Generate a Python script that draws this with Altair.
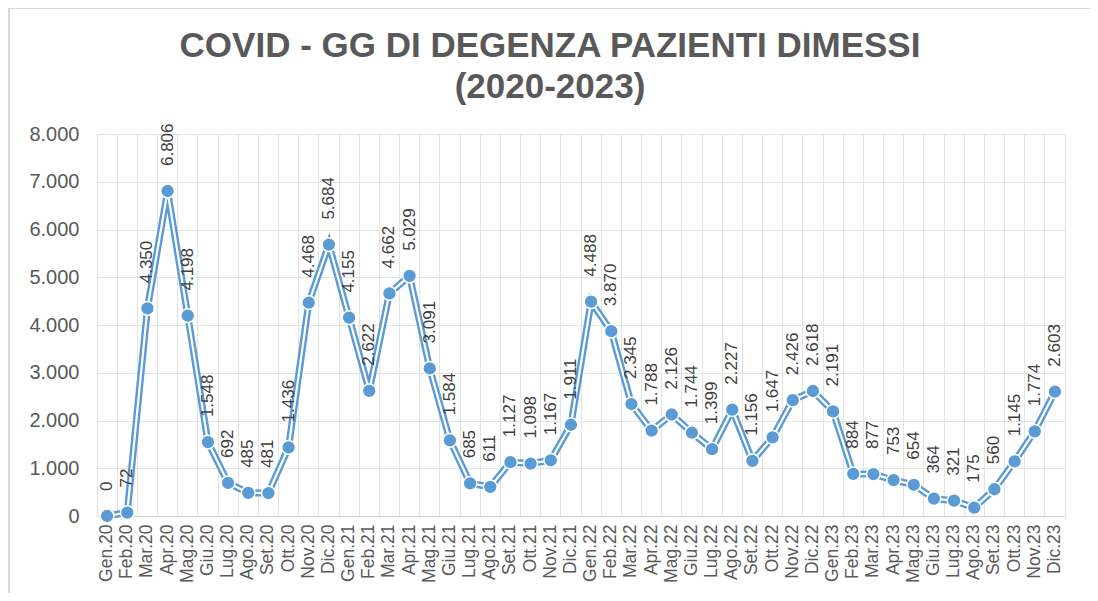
import altair as alt
import pandas as pd

months = ["Gen.20", "Feb.20", "Mar.20", "Apr.20", "Mag.20", "Giu.20", "Lug.20", "Ago.20", "Set.20", "Ott.20", "Nov.20", "Dic.20",
          "Gen.21", "Feb.21", "Mar.21", "Apr.21", "Mag.21", "Giu.21", "Lug.21", "Ago.21", "Set.21", "Ott.21", "Nov.21", "Dic.21",
          "Gen.22", "Feb.22", "Mar.22", "Apr.22", "Mag.22", "Giu.22", "Lug.22", "Ago.22", "Set.22", "Ott.22", "Nov.22", "Dic.22",
          "Gen.23", "Feb.23", "Mar.23", "Apr.23", "Mag.23", "Giu.23", "Lug.23", "Ago.23", "Set.23", "Ott.23", "Nov.23", "Dic.23"]
values = [0, 72, 4350, 6806, 4198, 1548, 692, 485, 481, 1436, 4468, 5684,
          4155, 2622, 4662, 5029, 3091, 1584, 685, 611, 1127, 1098, 1167, 1911,
          4488, 3870, 2345, 1788, 2126, 1744, 1399, 2227, 1156, 1647, 2426, 2618,
          2191, 884, 877, 753, 654, 364, 321, 175, 560, 1145, 1774, 2603]
y_ticks = [0, 1000, 2000, 3000, 4000, 5000, 6000, 7000, 8000]
title_lines = ["COVID - GG DI DEGENZA PAZIENTI DIMESSI", "(2020-2023)"]

df = pd.DataFrame({"mese": months, "valore": values})

FONT = "Liberation Sans"
BLUE = "#5b9bd5"
GRID = "#e4e4e4"

x_enc = alt.X("mese:N", sort=months, bandPosition=0.5,
              scale=alt.Scale(type="band", paddingInner=0, paddingOuter=0),
              axis=alt.Axis(title=None, grid=True, gridColor=GRID, bandPosition=0,
                            ticks=False, domainColor="#cfcfcf", labelAngle=270,
                            labelFont=FONT, labelFontSize=17.5, labelColor="#595959",
                            labelPadding=8))
y_enc = alt.Y("valore:Q", scale=alt.Scale(domain=[0, 8000], nice=False),
              axis=alt.Axis(title=None, values=y_ticks, grid=True, gridColor=GRID,
                            domain=False, ticks=False, labelFont=FONT, labelFontSize=20,
                            labelColor="#595959", labelPadding=18,
                            labelExpr="replace(format(datum.value, ','), ',', '.')"))

base = alt.Chart(df).encode(x=x_enc, y=y_enc)

frame = alt.Chart(df).mark_rect(fill=None, stroke="#d9d9d9", strokeWidth=1.5).encode(
    x=alt.value(-88), x2=alt.value(995), y=alt.value(-126), y2=alt.value(462))

line_outer = base.mark_line(color=BLUE, strokeWidth=7)
line_inner = base.mark_line(color="white", strokeWidth=2.2)
points = base.mark_point(filled=True, fill=BLUE, stroke="white", strokeWidth=1.5,
                         size=190, opacity=1, shape="circle")
labels = base.transform_calculate(
    lbl="replace(format(datum.valore, ','), ',', '.')"
).mark_text(angle=270, align="left", baseline="middle", dx=25, font=FONT,
            fontSize=17, color="#404040").encode(text="lbl:N")

chart = alt.layer(frame, line_outer, line_inner, points, labels).properties(
    width=968, height=382,
    autosize=alt.AutoSizeParams(type="none"),
    padding={"left": 89, "top": 126, "right": 25, "bottom": 77},
    title=alt.TitleParams(title_lines, font=FONT, fontSize=35, fontWeight="bold",
                          color="#595959", anchor="middle", lineHeight=41,
                          offset=-98, dx=-31),
).configure_view(stroke=GRID)

chart.save("out.html", embed_options={"renderer": "svg", "actions": False})
